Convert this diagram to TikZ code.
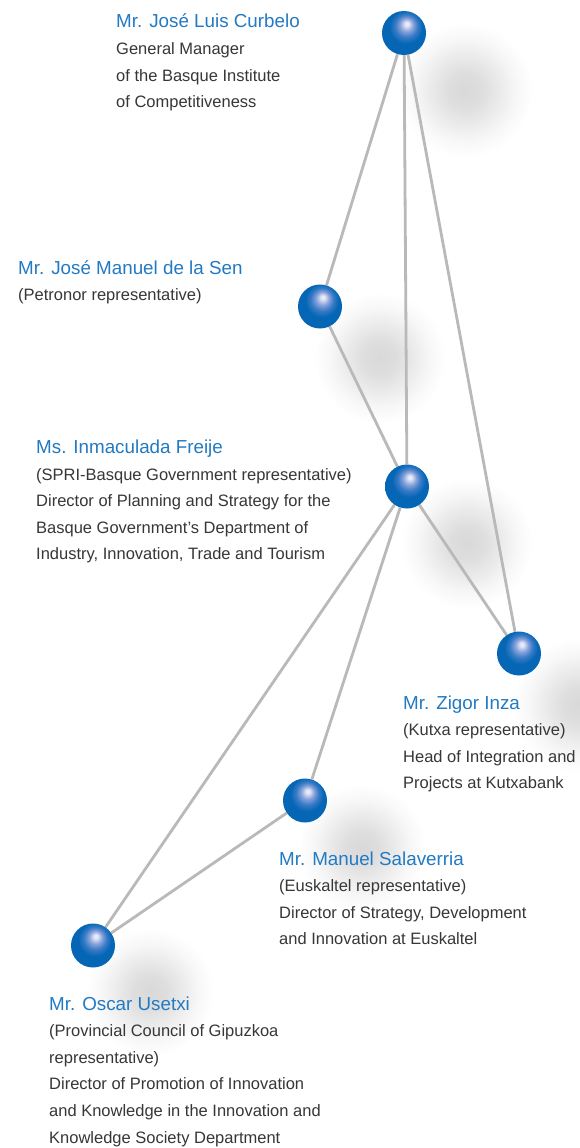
\documentclass[tikz,border=0pt]{standalone}
\usepackage{fontspec}
\setmainfont{Liberation Sans}
\usetikzlibrary{calc}
\definecolor{nameblue}{RGB}{34,122,194}
\definecolor{descgray}{RGB}{55,55,55}
\definecolor{linkgray}{RGB}{185,185,185}
\definecolor{hlc}{RGB}{230,233,248}
\definecolor{midc}{RGB}{135,162,218}
\definecolor{midd}{RGB}{55,122,198}
\definecolor{sbl}{RGB}{5,102,181}
\pgfdeclareradialshading{sphereshade}{\pgfpoint{3.4bp}{10.8bp}}{color(0bp)=(hlc); color(2bp)=(hlc); color(7.5bp)=(midc); color(13bp)=(midd); color(19bp)=(sbl); color(50bp)=(sbl)}
\pgfdeclareradialshading{blob}{\pgfpoint{0bp}{0bp}}{color(0bp)=(black!15); color(6bp)=(black!13); color(12bp)=(black!8); color(18bp)=(black!3); color(23.5bp)=(white); color(50bp)=(white)}
\pgfdeclarelayer{shadowlayer}
\pgfdeclarelayer{linklayer}
\pgfsetlayers{shadowlayer,linklayer,main}
\newcommand\persona[5]{%
  \node[nm] (#1) at (#2,#3) {#4};
  \foreach \t [count=\i] in {#5} \node[desc] (#1-\i) at (#2,#3+26.6*\i) {\t};
}
\begin{document}
\begin{tikzpicture}[x=1pt,y=-1pt,
  sphere/.style={circle, minimum size=44pt, inner sep=0pt, shade, shading=sphereshade},
  link/.style={draw=linkgray, line width=2.8pt},
  nm/.style={anchor=base west, inner sep=0pt, text=nameblue, font=\fontsize{18.8}{22}\selectfont},
  desc/.style={anchor=base west, inner sep=0pt, text=descgray, font=\fontsize{16.5}{20}\selectfont},
  shadowblob/.style={shading=blob}]
\useasboundingbox (0,0) rectangle (579,1148);
\clip (0,0) rectangle (579,1148);

% spheres
\node[sphere] (s1) at (404,33) {};
\node[sphere] (s2) at (320,306.5) {};
\node[sphere] (s3) at (407,486.5) {};
\node[sphere] (s4) at (519,653.5) {};
\node[sphere] (s5) at (305,800.5) {};
\node[sphere] (s6) at (93,945.5) {};

% background and shadows
\begin{pgfonlayer}{shadowlayer}
\fill[white] (0,0) rectangle (579,1148);
\shade[shadowblob] (465,90) circle (72);
\shade[shadowblob] (380,358) circle (70);
\shade[shadowblob] (467,543) circle (70);
\shade[shadowblob] (580,705) circle (72);
\shade[shadowblob] (362,848) circle (68);
\shade[shadowblob] (150,992) circle (68);
\end{pgfonlayer}

% connectors
\begin{pgfonlayer}{linklayer}
\draw[link] (s1) -- (s2);
\draw[link] (s1) -- (s3);
\draw[link] (s1) -- (s4);
\draw[link] (s2) -- (s3);
\draw[link] (s3) -- (s4);
\draw[link] (s3) -- (s5);
\draw[link] (s3) -- (s6);
\draw[link] (s5) -- (s6);
\end{pgfonlayer}

% labels
\persona{curbelo}{116}{28}{Mr. José Luis Curbelo}{General Manager, of the Basque Institute, of Competitiveness}
\persona{sen}{18}{274}{Mr. José Manuel de la Sen}{{(Petronor representative)}}
\persona{freije}{36}{453.5}{Ms. Inmaculada Freije}{{(SPRI-Basque Government representative)}, Director of Planning and Strategy for the, Basque Government’s Department of, {Industry, Innovation, Trade and Tourism}}
\persona{inza}{403}{709}{Mr. Zigor Inza}{{(Kutxa representative)}, Head of Integration and, Projects at Kutxabank}
\persona{salaverria}{279}{865}{Mr. Manuel Salaverria}{{(Euskaltel representative)}, {Director of Strategy, Development}, and Innovation at Euskaltel}
\persona{usetxi}{49}{1010}{Mr. Oscar Usetxi}{{(Provincial Council of Gipuzkoa}, {representative)}, Director of Promotion of Innovation, and Knowledge in the Innovation and, Knowledge Society Department}
\end{tikzpicture}
\end{document}
